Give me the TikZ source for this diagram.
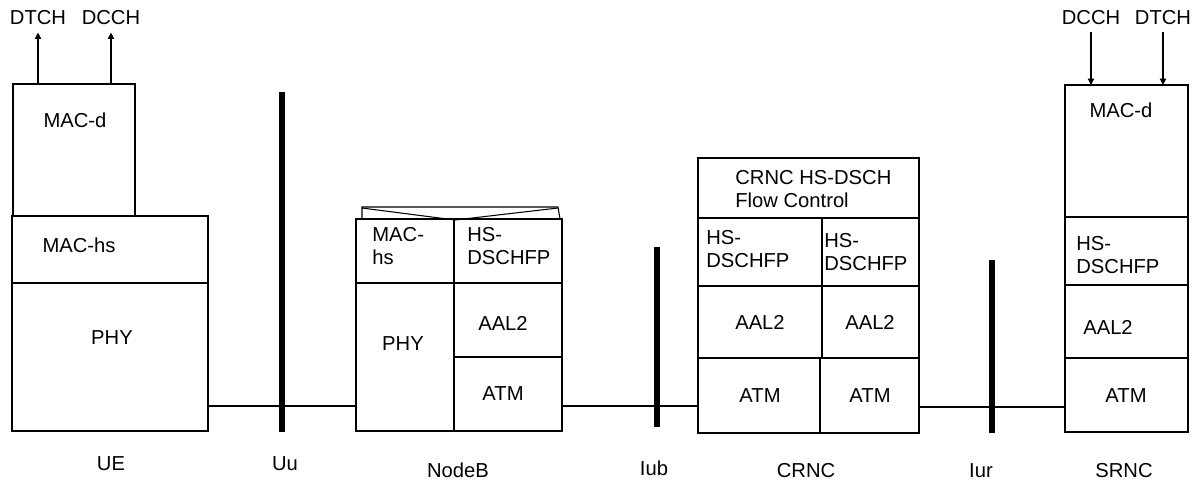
\documentclass[tikz,border=0pt]{standalone}
\usepackage{fontspec}
\setmainfont{Liberation Sans}
\usetikzlibrary{fit,arrows.meta}

\begin{document}
\begin{tikzpicture}[x=0.02cm,y=-0.02cm,
  every node/.style={font=\fontsize{11.5pt}{13.2pt}\selectfont},
  layer/.style={draw,inner sep=0pt,outer sep=0pt,line width=0.6pt},
  txt/.style={inner sep=0pt,anchor=base},
  txtl/.style={inner sep=0pt,anchor=north west,align=left},
  chanlbl/.style={inner sep=4pt,anchor=base},
  link/.style={line width=0.6pt},
  bar/.style={line width=3.4pt},
  chan/.style={line width=0.6pt,-{Triangle[length=3.6pt,width=3.6pt]}}]
\useasboundingbox (0,0) rectangle (1203,480);
% protocol layers
\foreach \name/\xa/\ya/\xb/\yb in {
  ueMACd/13/84/135/216,
  ueMAChs/12/216/208/283,
  uePHY/12/283/208/431,
  nbMAChs/356/219/454/283,
  nbFP/454/219/562/283,
  nbPHY/356/283/454/431,
  nbAAL/454/283/562/357,
  nbATM/454/357/562/431,
  crFC/698/158/919/218,
  crFPa/698/218/822/286,
  crFPb/822/218/919/286,
  crAALa/698/286/822/358,
  crAALb/822/286/919/358,
  crATMa/698/358/820/433,
  crATMb/820/358/919/433,
  srMACd/1065/85/1188/217,
  srFP/1065/217/1188/285,
  srAAL/1065/285/1188/358,
  srATM/1065/358/1188/432
}{
  \node[layer,fit={(\xa,\ya) (\xb,\yb)}] (\name) {};
}
% collapsed frame above NodeB
\draw[link] (362,219) -- (362,207) -- (558,207) -- (560,219);
\draw[link] (362,208) -- (455,220) -- (558,208);

% layer texts
\node[txt] (ueMACdT) at (75,127) {MAC-d};
\node[txt] (ueMAChsT) at (79,252) {MAC-hs};
\node[txt] (uePHYT) at (112,344) {PHY};
\node[txtl] (nbMAChsT) at (372,227) {MAC-\\hs};
\node[txtl] (nbFPT) at (467,227) {HS-\\DSCHFP};
\node[txt] (nbPHYT) at (403,350) {PHY};
\node[txt] (nbAALT) at (503,330) {AAL2};
\node[txt] (nbATMT) at (503,400) {ATM};
\node[txtl] (crFCT) at (735,170) {CRNC HS-DSCH\\Flow Control};
\node[txtl] (crFPaT) at (706,230) {HS-\\DSCHFP};
\node[txtl] (crFPbT) at (824,233) {HS-\\DSCHFP};
\node[txt] (crAALaT) at (760,329) {AAL2};
\node[txt] (crAALbT) at (870,329) {AAL2};
\node[txt] (crATMaT) at (760,402) {ATM};
\node[txt] (crATMbT) at (870,402) {ATM};
\node[txt] (srMACdT) at (1121,117) {MAC-d};
\node[txtl] (srFPT) at (1076,236) {HS-\\DSCHFP};
\node[txt] (srAALT) at (1108,334) {AAL2};
\node[txt] (srATMT) at (1126,402) {ATM};

% logical channels
\node[chanlbl] (ueDTCH) at (38,25) {DTCH};
\node[chanlbl] (ueDCCH) at (111,25) {DCCH};
\node[chanlbl] (srDCCH) at (1091,24) {DCCH};
\node[chanlbl] (srDTCH) at (1163,24) {DTCH};
\draw[chan] (ueMACd.north -| ueDTCH.south) -- (ueDTCH.south);
\draw[chan] (ueMACd.north -| ueDCCH.south) -- (ueDCCH.south);
\draw[chan] (srDCCH.south) -- (srMACd.north -| srDCCH.south);
\draw[chan] (srDTCH.south) -- (srMACd.north -| srDTCH.south);

% transport links and interfaces
\draw[link] (uePHY.east |- 0,406) -- (nbPHY.west |- 0,406);
\draw[link] (nbATM.east |- 0,406) -- (crATMa.west |- 0,406);
\draw[link] (crATMb.east |- 0,407) -- (srATM.west |- 0,407);
\draw[bar] (282,92) -- (282,432);
\draw[bar] (657,247) -- (657,427);
\draw[bar] (992,260) -- (992,433);

% entity and interface names
\node[txt] (ue) at (111,470) {UE};
\node[txt] (uu) at (285,470) {Uu};
\node[txt] (nodeb) at (458,477) {NodeB};
\node[txt] (iub) at (654,475) {Iub};
\node[txt] (crnc) at (806,477) {CRNC};
\node[txt] (iur) at (981,477) {Iur};
\node[txt] (srnc) at (1124,477) {SRNC};
\end{tikzpicture}
\end{document}
